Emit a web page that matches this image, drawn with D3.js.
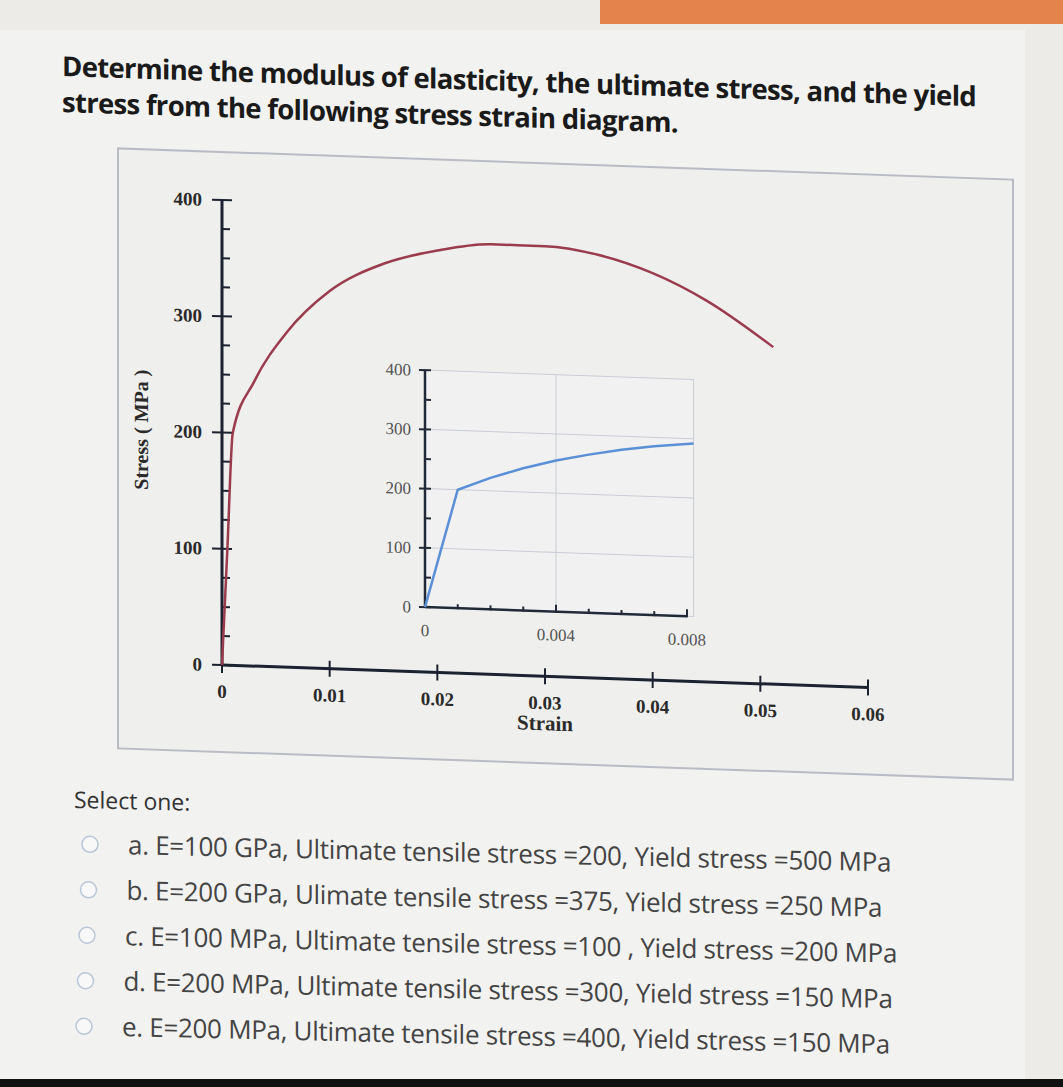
<!DOCTYPE html>
<html><head><meta charset="utf-8">
<script src="https://cdn.jsdelivr.net/npm/d3@7"></script>
<style>body{margin:0;background:#ecebe8;}svg{display:block}</style>
</head><body>
<script>
// main stress-strain curve (strain, MPa)
const mainCurve = [[0,0],[0.0005,100],[0.001,200],[0.003,245],[0.006,288],[0.01,325],[0.015,350],
  [0.02,363],[0.025,370],[0.03,370],[0.035,364],[0.04,350],[0.045,328],[0.0512,290]];
// inset: first part of the curve
const insetCurve = [[0,0],[0.001,200],[0.002,222],[0.003,240],[0.004,255],[0.005,267],[0.006,277],[0.007,285],[0.0082,292]];
const mainXTicks = [0,0.01,0.02,0.03,0.04,0.05,0.06];
const mainYTicks = [0,100,200,300,400];
const insetXTicks = [0,0.004,0.008];
const insetYTicks = [0,100,200,300,400];
const title = ["Determine the modulus of elasticity, the ultimate stress, and the yield",
  "stress from the following stress strain diagram."];
const options = [
  "a. E=100 GPa, Ultimate tensile stress =200, Yield stress =500 MPa",
  "b. E=200 GPa, Ulimate tensile stress =375, Yield stress =250 MPa",
  "c. E=100 MPa, Ultimate tensile stress =100 , Yield stress =200 MPa",
  "d. E=200 MPa, Ultimate tensile stress =300, Yield stress =150 MPa",
  "e. E=200 MPa, Ultimate tensile stress =400, Yield stress =150 MPa"];

const W = 1063, H = 1087;
const svg = d3.select("body").append("svg").attr("width", W).attr("height", H);
svg.append("rect").attr("width", W).attr("height", H).attr("fill", "#ecebe8");
svg.append("rect").attr("x", 0).attr("y", 30).attr("width", 1025).attr("height", 1050).attr("fill", "#f2f2f0");
svg.append("rect").attr("x", 600).attr("y", 0).attr("width", 463).attr("height", 24).attr("fill", "#e5834d");
svg.append("rect").attr("x", 0).attr("y", 1079).attr("width", W).attr("height", 8).attr("fill", "#111");

// the photo is sheared: verticals stay upright, horizontals run downhill
const shear = (deg, x0) => {
  const t = Math.tan(deg * Math.PI / 180);
  return `matrix(1,${t},0,1,0,${-x0 * t})`;
};
const g = svg.append("g").attr("transform", shear(2, 222));

const tg = svg.append("g").attr("transform", shear(1.9, 62));
tg.selectAll("text.title").data(title).join("text")
  .attr("x", 62).attr("y", (d, i) => 76 + i * 36)
  .attr("font-family", "Open Sans").attr("font-weight", "bold").attr("font-size", 27.5)
  .attr("fill", "#1a1a1a").attr("letter-spacing", -0.7).text(d => d);

// chart frame
g.append("rect").attr("x", 118).attr("y", 152).attr("width", 895).attr("height", 600)
  .attr("fill", "#efefed").attr("stroke", "#b9bcc4").attr("stroke-width", 2);

const x = d3.scaleLinear().domain([0, 0.06]).range([222, 868]);
const y = d3.scaleLinear().domain([0, 400]).range([665, 200]);
const serif = "Liberation Serif";

const ya = g.append("g").attr("transform", "translate(222,0)")
  .call(d3.axisLeft(y).tickValues(mainYTicks).tickSize(0).tickPadding(20));
ya.selectAll(".tick line").remove();
ya.select(".domain").remove();
g.append("line").attr("x1", 222).attr("x2", 222).attr("y1", y(0)).attr("y2", y(400)).attr("stroke", "#1c2230").attr("stroke-width", 3);
g.selectAll("line.ymaj").data(mainYTicks).join("line").attr("x1", 212).attr("x2", 232)
  .attr("y1", d => y(d)).attr("y2", d => y(d)).attr("stroke", "#1c2230").attr("stroke-width", 2);
g.selectAll("line.ymin").data(d3.range(0, 400, 25).filter(v => v % 100)).join("line").attr("x1", 222).attr("x2", 230)
  .attr("y1", d => y(d)).attr("y2", d => y(d)).attr("stroke", "#1c2230").attr("stroke-width", 2);
ya.selectAll("text").attr("font-family", serif).attr("font-weight", "bold").attr("font-size", 19).attr("fill", "#2a2a2a");

g.append("line").attr("x1", x(0)).attr("x2", x(0.06)).attr("y1", y(0)).attr("y2", y(0)).attr("stroke", "#1c2230").attr("stroke-width", 3);
g.selectAll("line.xmaj").data(mainXTicks).join("line").attr("x1", d => x(d)).attr("x2", d => x(d))
  .attr("y1", y(0) - 8).attr("y2", y(0) + 8).attr("stroke", "#1c2230").attr("stroke-width", 2);
g.selectAll("text.xl").data(mainXTicks).join("text").attr("x", d => x(d)).attr("y", y(0) + 33)
  .attr("text-anchor", "middle").attr("font-family", serif).attr("font-weight", "bold").attr("font-size", 19)
  .attr("fill", "#2a2a2a").text(d => d === 0 ? "0" : d3.format(".2f")(d));
g.append("text").attr("x", x(0.03)).attr("y", y(0) + 54).attr("text-anchor", "middle")
  .attr("font-family", serif).attr("font-weight", "bold").attr("font-size", 21).attr("fill", "#2a2a2a").text("Strain");
g.append("text").attr("transform", `translate(148,${y(200)}) rotate(-90)`).attr("text-anchor", "middle")
  .attr("font-family", serif).attr("font-weight", "bold").attr("font-size", 20).attr("fill", "#2a2a2a").text("Stress ( MPa )");

g.append("path").datum(mainCurve).attr("fill", "none").attr("stroke", "#9b3c4e").attr("stroke-width", 2.5)
  .attr("d", d3.line().x(d => x(d[0])).y(d => y(d[1])).curve(d3.curveMonotoneX));

// inset
const ix = d3.scaleLinear().domain([0, 0.008]).range([425, 687]);
const iy = d3.scaleLinear().domain([0, 400]).range([600, 363]);
g.append("rect").attr("x", ix(0)).attr("y", iy(400)).attr("width", ix(0.0082) - ix(0)).attr("height", iy(0) - iy(400))
  .attr("fill", "#f1f1f1").attr("stroke", "#c9cdd6").attr("stroke-width", 1);
g.selectAll("line.igh").data([100, 200, 300]).join("line").attr("x1", ix(0)).attr("x2", ix(0.0082))
  .attr("y1", d => iy(d)).attr("y2", d => iy(d)).attr("stroke", "#c9cdd6");
g.append("line").attr("x1", ix(0.004)).attr("x2", ix(0.004)).attr("y1", iy(0)).attr("y2", iy(400)).attr("stroke", "#c9cdd6");
g.append("line").attr("x1", ix(0)).attr("x2", ix(0)).attr("y1", iy(0)).attr("y2", iy(400)).attr("stroke", "#222a38").attr("stroke-width", 2.5);
g.append("line").attr("x1", ix(0)).attr("x2", ix(0.008)).attr("y1", iy(0)).attr("y2", iy(0)).attr("stroke", "#222a38").attr("stroke-width", 2.5);
g.selectAll("line.iym").data(d3.range(0, 401, 50)).join("line")
  .attr("x1", d => d % 100 ? ix(0) : ix(0) - 6).attr("x2", ix(0) + 6)
  .attr("y1", d => iy(d)).attr("y2", d => iy(d)).attr("stroke", "#222a38").attr("stroke-width", 2);
g.selectAll("line.ixm").data(d3.range(0, 9).map(v => v / 1000)).join("line")
  .attr("x1", d => ix(d)).attr("x2", d => ix(d))
  .attr("y1", d => iy(0) - (Math.round(d * 1000) % 4 ? 4 : 7)).attr("y2", iy(0) + 1)
  .attr("stroke", "#222a38").attr("stroke-width", 2);
g.selectAll("text.iyl").data(insetYTicks).join("text").attr("x", ix(0) - 14).attr("y", d => iy(d) + 6)
  .attr("text-anchor", "end").attr("font-family", serif).attr("font-size", 17).attr("fill", "#555").text(d => d);
g.selectAll("text.ixl").data(insetXTicks).join("text").attr("x", d => ix(d)).attr("y", iy(0) + 29)
  .attr("text-anchor", "middle").attr("font-family", serif).attr("font-size", 17).attr("fill", "#555")
  .text(d => d === 0 ? "0" : d3.format(".3f")(d));
g.append("path").datum(insetCurve).attr("fill", "none").attr("stroke", "#5b8fd6").attr("stroke-width", 2.5)
  .attr("d", d3.line().x(d => ix(d[0])).y(d => iy(d[1])));

// answers
const ag = svg.append("g").attr("transform", shear(1.3, 74));
ag.append("text").attr("x", 74).attr("y", 808).attr("font-family", "Open Sans").attr("font-size", 23)
  .attr("fill", "#333").text("Select one:");
const opt = ag.selectAll("g.opt").data(options).join("g").attr("transform", (d, i) => `translate(${-1.5 * i},${853 + i * 45.5})`);
opt.append("circle").attr("cx", 90).attr("cy", -9).attr("r", 8).attr("fill", "#f8f8f8").attr("stroke", "#b8c6d8").attr("stroke-width", 1.5);
opt.append("text").attr("x", 128).attr("y", 0).attr("font-family", "Open Sans").attr("font-size", 26)
  .attr("fill", "#444").attr("letter-spacing", -0.3).text(d => d);
</script>
</body></html>
